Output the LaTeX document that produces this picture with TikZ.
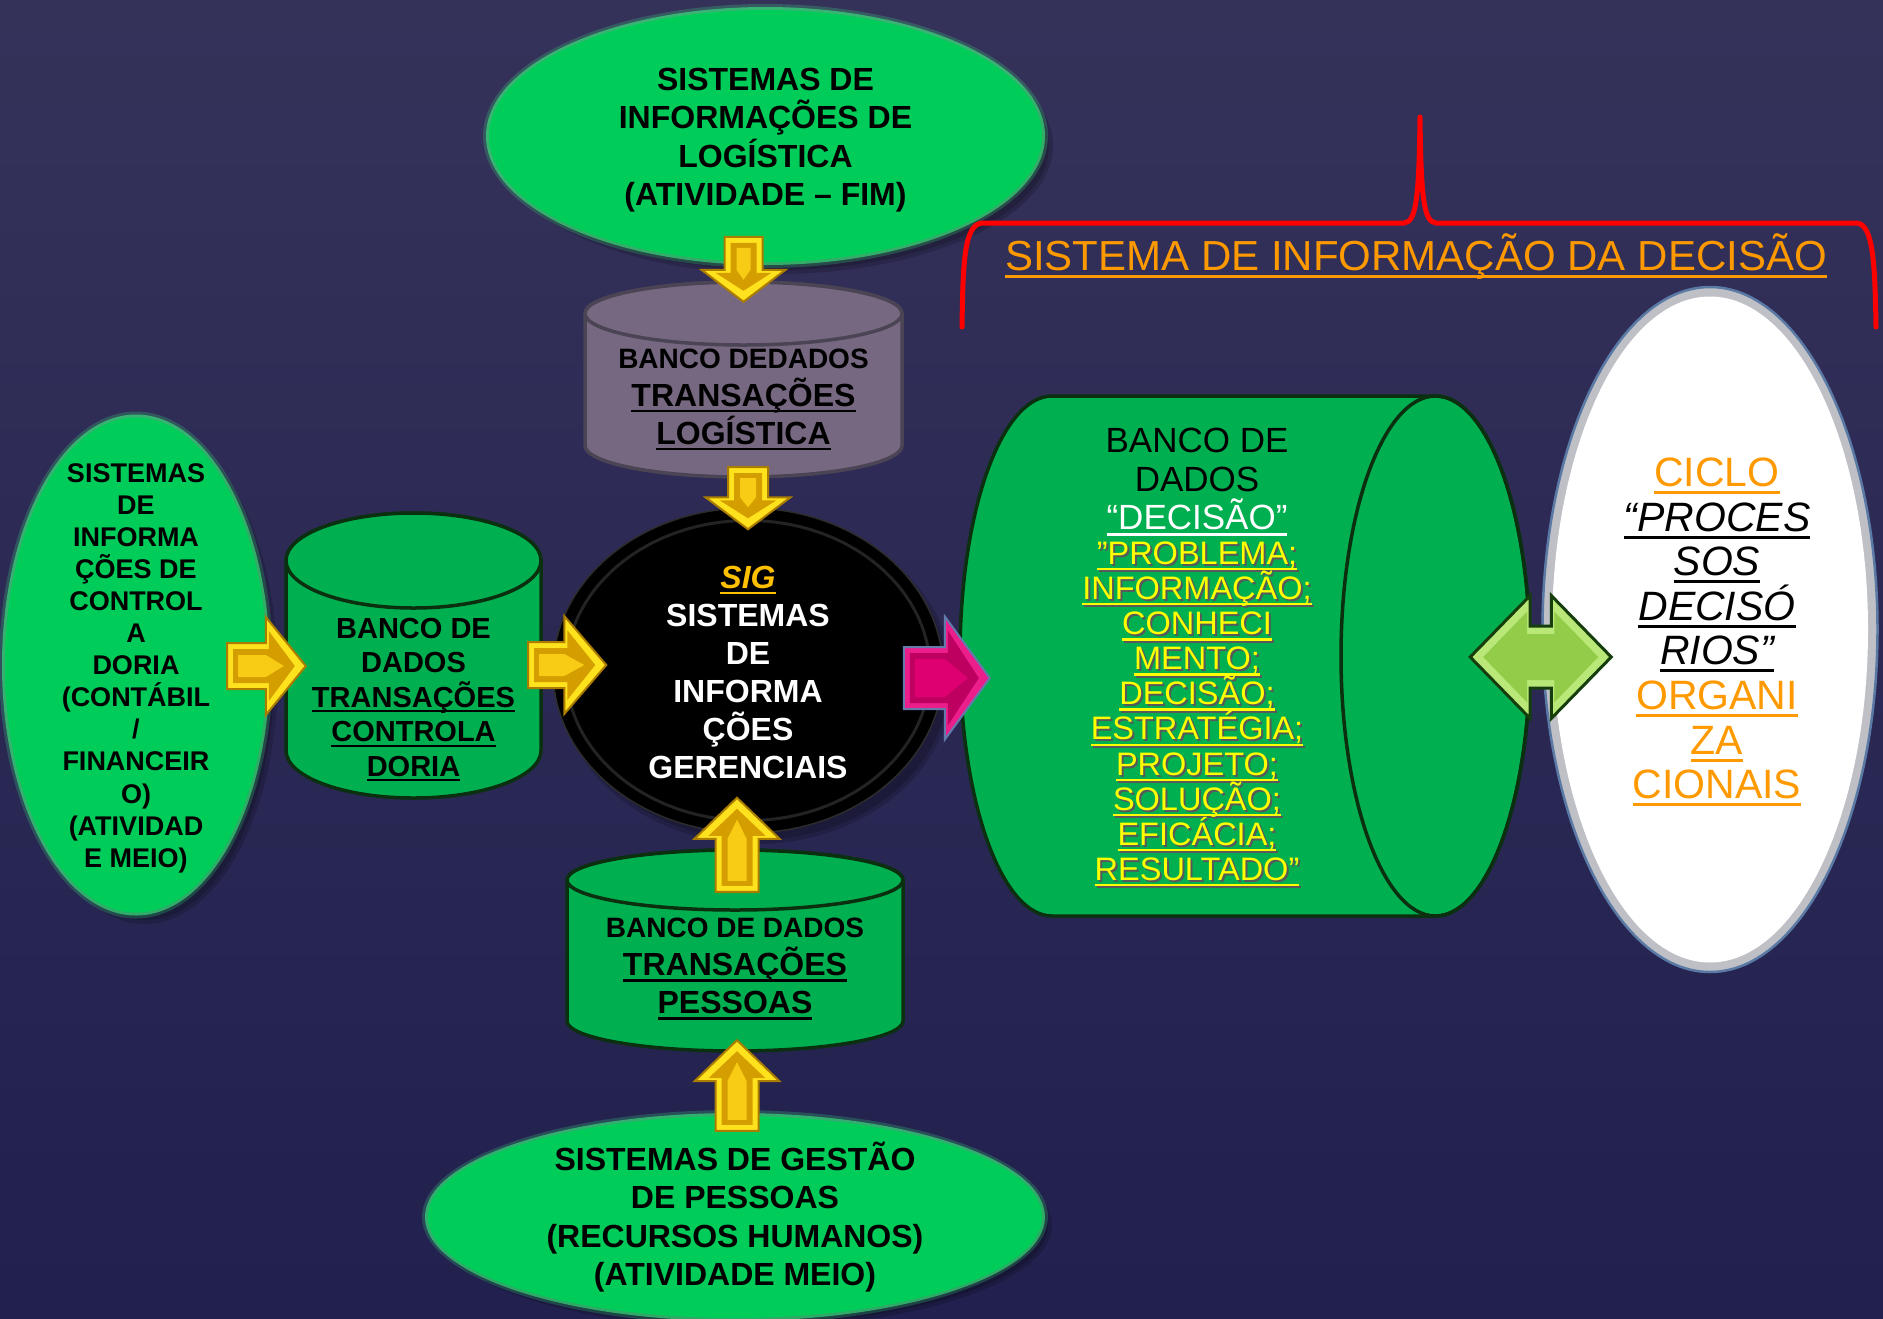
\documentclass[tikz,border=0pt]{standalone}
\usepackage{fontspec}
\setmainfont{Liberation Sans}
\usetikzlibrary{calc,shapes.geometric}
\definecolor{bgtop}{RGB}{53,50,90}
\definecolor{bgbot}{RGB}{33,32,78}
\definecolor{gin}{RGB}{0,204,90}
\definecolor{gout}{RGB}{40,250,120}
\definecolor{ghalo}{RGB}{60,255,130}
\definecolor{cylgreen}{RGB}{0,176,80}
\definecolor{cylborder}{RGB}{10,48,16}
\definecolor{graycylfill}{RGB}{118,104,128}
\definecolor{graycylline}{RGB}{74,68,84}
\definecolor{ayouter}{RGB}{255,226,30}
\definecolor{ayinner}{RGB}{212,158,0}
\definecolor{aystripe}{RGB}{248,204,20}
\definecolor{ayborder}{RGB}{170,125,0}
\definecolor{amouter}{RGB}{236,30,140}
\definecolor{aminner}{RGB}{190,0,96}
\definecolor{amstripe}{RGB}{222,0,112}
\definecolor{amborder}{RGB}{100,122,170}
\definecolor{agouter}{RGB}{186,232,120}
\definecolor{aginner}{RGB}{146,204,72}
\definecolor{agborder}{RGB}{22,62,12}
\definecolor{orangetxt}{RGB}{255,153,0}
\definecolor{sigold}{RGB}{255,192,0}
\definecolor{yellowtxt}{RGB}{255,255,0}
\definecolor{bracered}{RGB}{255,0,0}
\definecolor{rimgray}{RGB}{190,192,198}
\definecolor{rimblue}{RGB}{90,122,165}
\definecolor{sigrim}{RGB}{44,44,44}
\pgfdeclareradialshading{greenglow}{\pgfpoint{0bp}{0bp}}{color(0bp)=(gin); color(32bp)=(gin); color(50bp)=(gout)}

\setlength{\lineskiplimit}{-100pt}
\newcommand{\fsz}[2]{\fontsize{#1}{#2}\selectfont}
\newcommand{\myul}[1]{\leavevmode\setbox0=\hbox{#1}\rlap{\copy0}\rule[-0.18em]{\wd0}{0.07em}}
\newcommand{\ysh}[1]{\leavevmode\rlap{\kern2pt\raisebox{-2pt}{\textcolor{black!65}{#1}}}#1}

% block arrow: #1 tail, #2 tip, #3 head width, #4 shaft width, #5 head length, #6 outer, #7 inner, #8 stripe, #9 border
\newcommand{\barrow}[9]{%
  \path let \p1=(#1), \p2=(#2) in \pgfextra{%
    \pgfmathsetmacro\bA{atan2(\y2-\y1,\x2-\x1)}%
    \pgfmathsetmacro\bL{veclen(\x2-\x1,\y2-\y1)}%
    \xdef\bA{\bA}\xdef\bL{\bL}};
  \begin{scope}[shift={(#1)}, rotate=\bA, x=1pt, y=1pt]
    \filldraw[fill=#6, draw=#9, line width=2pt, line join=miter]
      (0,-#4/2) -- (\bL-#5,-#4/2) -- (\bL-#5,-#3/2) -- (\bL,0) -- (\bL-#5,#3/2) -- (\bL-#5,#4/2) -- (0,#4/2) -- cycle;
    \fill[#7] (6,-#4/2+6) -- (\bL-#5+3,-#4/2+6) -- (\bL-#5+3,-#3/2+14) -- (\bL-11,0)
      -- (\bL-#5+3,#3/2-14) -- (\bL-#5+3,#4/2-6) -- (6,#4/2-6) -- cycle;
    \fill[#8] (11,-#4/2+12) -- (\bL-#5,-#4/2+12) -- (\bL-22,0) -- (\bL-#5,#4/2-12) -- (11,#4/2-12) -- cycle;
  \end{scope}}

% double block arrow: #1 left tip, #2 right tip, #3 head width, #4 shaft width, #5 head length, #6 outer, #7 inner, #8 border
\newcommand{\dbarrow}[8]{%
  \path let \p1=(#1), \p2=(#2) in \pgfextra{%
    \pgfmathsetmacro\bA{atan2(\y2-\y1,\x2-\x1)}%
    \pgfmathsetmacro\bL{veclen(\x2-\x1,\y2-\y1)}%
    \xdef\bA{\bA}\xdef\bL{\bL}};
  \begin{scope}[shift={(#1)}, rotate=\bA, x=1pt, y=1pt]
    \filldraw[fill=#6, draw=#8, line width=3pt, line join=miter]
      (0,0) -- (#5,-#3/2) -- (#5,-#4/2) -- (\bL-#5,-#4/2) -- (\bL-#5,-#3/2) -- (\bL,0)
      -- (\bL-#5,#3/2) -- (\bL-#5,#4/2) -- (#5,#4/2) -- (#5,#3/2) -- cycle;
    \fill[#7] (13,0) -- (#5-3,-#3/2+16) -- (#5-3,-#4/2+8) -- (\bL-#5+3,-#4/2+8) -- (\bL-#5+3,-#3/2+16) -- (\bL-13,0)
      -- (\bL-#5+3,#3/2-16) -- (\bL-#5+3,#4/2-8) -- (#5-3,#4/2-8) -- (#5-3,#3/2-16) -- cycle;
  \end{scope}}

% vertical cylinder: #1 x left, #2 x right, #3 y top, #4 y bottom, #5 ry, #6 style
\newcommand{\vcyl}[6]{%
  \pgfmathsetmacro\cylcx{(#1+#2)/2}%
  \pgfmathsetmacro\cylrx{(#2-#1)/2}%
  \filldraw[#6] (#1,#3+#5) -- (#1,#4-#5) arc[start angle=180,end angle=0,x radius=\cylrx,y radius=#5]
    -- (#2,#3+#5) arc[start angle=0,end angle=-180,x radius=\cylrx,y radius=#5] -- cycle;
  \filldraw[#6] (\cylcx,#3+#5) ellipse[x radius=\cylrx, y radius=#5];}

\begin{document}
\begin{tikzpicture}[x=1pt,y=-1pt,
  txt/.style={align=center, inner sep=0pt, text=black},
  glowell/.style={ellipse, shade, shading=greenglow, inner sep=0pt},
  frame/.style={inner sep=0pt},
  cylg/.style={fill=cylgreen, draw=cylborder, line width=3.5pt},
  cylgray/.style={fill=graycylfill, draw=graycylline, line width=3.5pt},
  shadowell/.style={fill=black, opacity=0.16}]
\useasboundingbox (0,0) rectangle (1883,1318);
\shade[top color=bgtop, bottom color=bgbot] (0,0) rectangle (1883,1318);

% soft shadows (bottom right)
\foreach \d in {0,4}{
  \fill[shadowell] (775,146) ellipse[x radius=274+\d, y radius=124+\d];
  \fill[shadowell] (145,674) ellipse[x radius=129+\d, y radius=246+\d];
  \fill[shadowell] (743,1225) ellipse[x radius=305+\d, y radius=99+\d];
  \fill[shadowell] (756,680) ellipse[x radius=193+\d, y radius=160+\d];
}
% green halos
\foreach \d/\o in {6/0.2,3/0.55}{
  \fill[ghalo, opacity=\o] (765.5,136) ellipse[x radius=276.5+\d, y radius=126+\d];
  \fill[ghalo, opacity=\o] (136,665) ellipse[x radius=131+\d, y radius=247.5+\d];
  \fill[ghalo, opacity=\o] (735,1217) ellipse[x radius=307+\d, y radius=101+\d];
}

% green ellipses
\node[glowell, minimum width=553pt, minimum height=252pt] (topell) at (765.5,136) {};
\node[glowell, minimum width=262pt, minimum height=495pt] (leftell) at (136,665) {};
\node[glowell, minimum width=614pt, minimum height=202pt] (botell) at (735,1217) {};

% cylinders
\node[frame, minimum width=317pt, minimum height=195pt] (gray) at (743.5,379.5) {};
\vcyl{585}{902}{282}{477}{31.5}{cylgray}
\node[frame, minimum width=255pt, minimum height=285pt] (leftcyl) at (413.5,655.5) {};
\vcyl{286}{541}{513}{798}{47.5}{cylg}
\node[frame, minimum width=336pt, minimum height=201pt] (botcyl) at (735,950.5) {};
\vcyl{567}{903}{850}{1051}{30}{cylg}

% SIG black ellipse
\node[ellipse, fill=black, draw=sigrim, line width=1.5pt, minimum width=390pt, minimum height=325pt, inner sep=0pt] (sig) at (748,670.5) {};
\draw[sigrim, line width=3pt, opacity=0.8] (sig.center) ellipse[x radius=182, y radius=150];

% big horizontal cylinder
\node[frame, minimum width=570pt, minimum height=520pt] (bigcyl) at (1245,656) {};
\filldraw[cylg] (1052,396) arc[start angle=-90, end angle=-270, x radius=92, y radius=260]
  -- (1435.5,916) arc[start angle=90, end angle=-90, x radius=94.5, y radius=260] -- cycle;
\draw[cylg, fill=none] (1435.5,656) ellipse[x radius=94.5, y radius=260];

% white ellipse
\node[ellipse, fill=rimgray, draw=rimblue, line width=2.5pt, minimum width=335pt, minimum height=685pt, inner sep=0pt] (whiteell) at (1710,629.5) {};
\fill[white] (whiteell.center) ellipse[x radius=158, y radius=333];

% red brace
\draw[bracered, line width=5pt, line cap=round, line join=round]
  (962,327) .. controls (963,262) and (964,225) .. (982,223) -- (1404,223)
  .. controls (1416,222) and (1419,200) .. (1420,117)
  .. controls (1421,200) and (1424,222) .. (1436,223) -- (1857,223)
  .. controls (1873,225) and (1875,262) .. (1876,327);

% arrow end points
\coordinate (a1t) at ($(gray.north)+(0,-45)$);
\coordinate (a1h) at ($(gray.north)+(0,20)$);
\coordinate (a2t) at ($(sig.north |- gray.south)+(0,-10)$);
\coordinate (a2h) at ($(sig.north)+(0,22)$);
\coordinate (a3t) at ($(leftell.east)+(-40,1)$);
\coordinate (a3h) at ($(leftcyl.west |- leftell.east)+(20,1)$);
\coordinate (a4t) at ($(leftcyl.east |- leftell.east)+(-13,0)$);
\coordinate (a4h) at ($(sig.west |- leftell.east)+(54,0)$);
\coordinate (a5t) at ($(botcyl.north)+(2,42)$);
\coordinate (a5h) at ($(sig.south)+(-11,-36)$);
\coordinate (a6t) at ($(botell.north)+(2,15)$);
\coordinate (a6h) at ($(botcyl.south)+(2,-11)$);
\coordinate (mt) at ($(sig.east)+(-40,7.5)$);
\coordinate (mh) at ($(bigcyl.west |- sig.east)+(30,7.5)$);
\coordinate (gl) at ($(bigcyl.east)+(-60,1)$);
\coordinate (gr) at ($(whiteell.west |- bigcyl.east)+(70,1)$);

\barrow{a1t}{a1h}{84}{38}{32}{ayouter}{ayinner}{aystripe}{ayborder}
\barrow{a2t}{a2h}{85}{40}{32}{ayouter}{ayinner}{aystripe}{ayborder}
\barrow{a3t}{a3h}{98}{46}{40}{ayouter}{ayinner}{aystripe}{ayborder}
\barrow{a4t}{a4h}{98}{46}{42}{ayouter}{ayinner}{aystripe}{ayborder}
\barrow{a5t}{a5h}{85}{43}{41}{ayouter}{ayinner}{aystripe}{ayborder}
\barrow{a6t}{a6h}{85}{43}{41}{ayouter}{ayinner}{aystripe}{ayborder}
\barrow{mt}{mh}{123}{62}{45}{amouter}{aminner}{amstripe}{amborder}
\dbarrow{gl}{gr}{123}{62}{60}{agouter}{aginner}{agborder}

% texts
\node[txt, font=\bfseries\fsz{32}{38.5}] (topelltxt) at ($(topell.center)+(0,4)$)
  {SISTEMAS DE\\INFORMAÇÕES DE\\LOGÍSTICA\\(ATIVIDADE – FIM)};
\node[txt, font=\bfseries\fsz{27}{32.1}] (leftelltxt) at ($(leftell.center)+(0,3)$)
  {SISTEMAS\\DE\\INFORMA\\ÇÕES DE\\CONTROL\\A\\DORIA\\(CONTÁBIL\\/\\FINANCEIR\\O)\\(ATIVIDAD\\E MEIO)};
\node[txt, font=\bfseries\fsz{32}{38}] (graytxt) at (743.5,399.5)
  {{\fsz{28}{38}BANCO DEDADOS}\\\myul{TRANSAÇÕES}\\\myul{LOGÍSTICA}};
\node[txt, font=\bfseries\fsz{29}{34.5}] (leftcyltxt) at (413.5,699.5)
  {BANCO DE\\DADOS\\\myul{TRANSAÇÕES}\\\myul{CONTROLA}\\\myul{DORIA}};
\node[txt, text=white, font=\bfseries\fsz{32}{38.1}] (sigtxt) at ($(sig.center)+(0,2)$)
  {{\color{sigold}\itshape\myul{SIG}}\\SISTEMAS\\DE\\INFORMA\\ÇÕES\\GERENCIAIS};
\node[txt, font=\bfseries\fsz{32}{38}] (botcyltxt) at (735,969)
  {{\fsz{28}{38}BANCO DE DADOS}\\\myul{TRANSAÇÕES}\\\myul{PESSOAS}};
\node[txt, font=\bfseries\fsz{32}{38.5}] (botelltxt) at (botell.center)
  {SISTEMAS DE GESTÃO\\DE PESSOAS\\(RECURSOS HUMANOS)\\(ATIVIDADE MEIO)};
\node[txt, font=\fsz{35}{38.2}] (bctop) at (1197,482)
  {BANCO DE\\DADOS\\{\color{white}\myul{“DECISÃO”}}};
\node[txt, text=yellowtxt, font=\fsz{32.5}{35.1}] (bclist) at (1197,715)
  {\ysh{\myul{”PROBLEMA;}}\\\ysh{\myul{INFORMAÇÃO;}}\\\ysh{\myul{CONHECI}}\\\ysh{\myul{MENTO;}}\\\ysh{\myul{DECISÃO;}}\\\ysh{\myul{ESTRATÉGIA;}}\\\ysh{\myul{PROJETO;}}\\\ysh{\myul{SOLUÇÃO;}}\\\ysh{\myul{EFICÁCIA;}}\\\ysh{\myul{RESULTADO”}}};
\node[txt, font=\fsz{41}{44.6}] (whitetxt) at (1717,632)
  {{\color{orangetxt}\myul{CICLO}}\\{\itshape\myul{“PROCES}}\\{\itshape\myul{SOS}}\\{\itshape\myul{DECISÓ}}\\{\itshape\myul{RIOS”}}\\{\color{orangetxt}\myul{ORGANI}}\\{\color{orangetxt}\myul{ZA}}\\{\color{orangetxt}\myul{CIONAIS}}};
\node[txt, text=orangetxt, font=\fsz{42}{50}] (title) at (1416,256.5)
  {\myul{SISTEMA DE INFORMAÇÃO DA DECISÃO}};
\end{tikzpicture}
\end{document}
